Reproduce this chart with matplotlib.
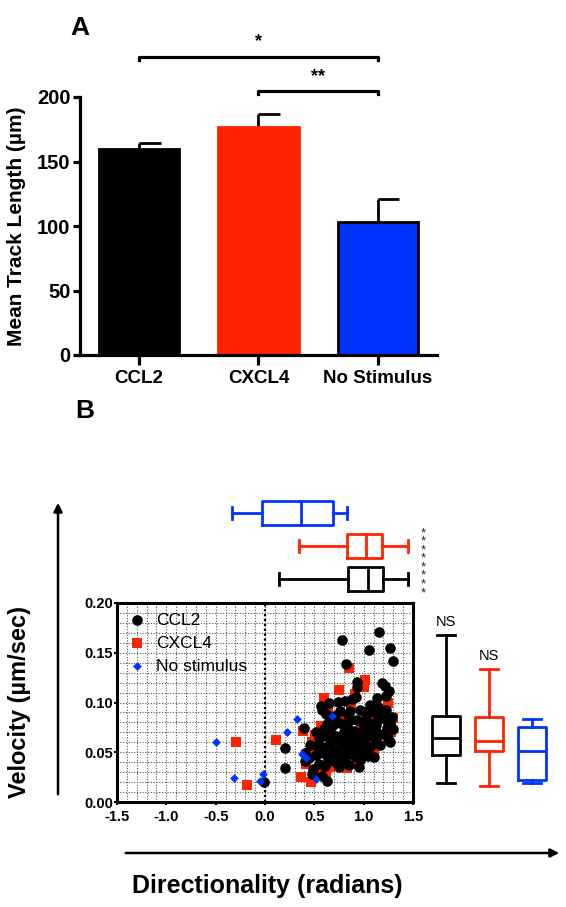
import matplotlib
matplotlib.use("Agg")
import matplotlib.pyplot as plt

plt.rcParams['font.family'] = ['Liberation Sans', 'DejaVu Sans']

# ---- panel A data
groups = ['CCL2', 'CXCL4', 'No Stimulus']
track_mean = [160, 177, 103]
track_err = [4, 10, 18]
colors = ['#000000', '#FF2200', '#0033FF']

# ---- panel B data
ccl2_x = [0.78, 1.16, 1.05, 1.27, 1.30, 0.82, 0.93, 0.93, 1.19, 1.22, 1.26, 1.23, 1.14, 0.92, 0.88,
          0.81, 0.74, 0.65, 0.57, -0.01, 0.20, 0.20, 0.40, 0.48, 0.58, 0.63, 0.46, 0.41, 0.41, 0.45,
          0.49, 0.52, 0.55, 0.59, 0.62, 0.66, 0.69, 0.58, 0.62, 0.76, 0.86, 0.83, 0.80, 0.93, 0.96,
          1.06, 1.23, 1.27, 1.30, 1.27, 1.20, 1.12, 1.03, 0.96, 0.95, 0.85, 0.80, 0.73, 0.70, 0.65,
          0.77, 0.86, 0.93, 1.10, 1.17, 1.25, 0.68, 0.72, 0.75, 0.79, 0.82, 0.88, 0.90, 0.97, 1.00,
          1.04, 1.08, 1.12, 1.15, 1.19, 1.22, 1.02, 0.98, 0.86, 0.74, 0.70, 0.66, 0.55, 0.52, 0.60,
          0.63, 0.90, 0.88, 1.00, 1.06, 0.76, 0.82, 0.71, 0.64, 0.58, 0.53, 0.95, 1.14, 1.24, 1.29,
          1.10, 0.84, 0.78, 1.04, 0.92, 0.97, 0.84, 0.91, 1.01, 1.07, 0.67, 0.61, 0.75, 1.15, 1.01]
ccl2_y = [0.163, 0.171, 0.153, 0.155, 0.142, 0.139, 0.121, 0.116, 0.120, 0.117, 0.112, 0.107, 0.105, 0.106, 0.104,
          0.102, 0.101, 0.100, 0.096, 0.020, 0.054, 0.034, 0.074, 0.028, 0.026, 0.021, 0.057, 0.049, 0.041, 0.044,
          0.033, 0.047, 0.038, 0.049, 0.066, 0.071, 0.077, 0.092, 0.088, 0.091, 0.091, 0.076, 0.070, 0.082, 0.092,
          0.097, 0.092, 0.079, 0.073, 0.060, 0.068, 0.062, 0.052, 0.042, 0.035, 0.037, 0.043, 0.045, 0.052, 0.057,
          0.057, 0.059, 0.056, 0.045, 0.057, 0.064, 0.062, 0.066, 0.063, 0.064, 0.061, 0.066, 0.071, 0.069, 0.074,
          0.066, 0.071, 0.077, 0.083, 0.087, 0.083, 0.084, 0.080, 0.082, 0.080, 0.086, 0.083, 0.064, 0.070, 0.073,
          0.078, 0.053, 0.048, 0.060, 0.055, 0.050, 0.052, 0.040, 0.043, 0.055, 0.056, 0.063, 0.069, 0.074, 0.085,
          0.090, 0.087, 0.078, 0.046, 0.045, 0.050, 0.069, 0.062, 0.067, 0.078, 0.048, 0.036, 0.035, 0.095, 0.090]

cxcl4_x = [-0.29, -0.18, 0.11, 0.36, 0.47, 0.39, 0.51, 0.57, 0.60, 0.75, 0.85, 1.01, 1.00, 0.91,
           0.73, 0.83, 0.68, 0.66, 1.30, 1.22, 1.18, 0.97, 1.05, 0.45, 0.55, 0.62, 0.90, 0.72,
           0.79, 0.87, 1.13, 1.28, 1.10, 0.94, 0.64, 0.48, 0.42, 1.25, 0.98]
cxcl4_y = [0.060, 0.017, 0.062, 0.025, 0.020, 0.071, 0.067, 0.076, 0.105, 0.113, 0.135, 0.123, 0.116, 0.109,
           0.037, 0.034, 0.042, 0.035, 0.084, 0.093, 0.087, 0.072, 0.063, 0.049, 0.031, 0.030, 0.039, 0.060,
           0.085, 0.097, 0.081, 0.070, 0.052, 0.058, 0.090, 0.060, 0.038, 0.100, 0.046]

nostim_x = [-0.50, -0.31, -0.02, -0.05, 0.22, 0.32, 0.68, 0.52, 0.42, 0.37]
nostim_y = [0.060, 0.024, 0.028, 0.021, 0.070, 0.083, 0.086, 0.023, 0.044, 0.048]

# box summaries: whislo, q1, med, q3, whishi   (order CCL2, CXCL4, No stimulus)
dir_box = [[0.14, 0.84, 1.04, 1.195, 1.45],
           [0.345, 0.83, 1.02, 1.185, 1.45],
           [-0.335, -0.03, 0.365, 0.69, 0.83]]
vel_box = [[0.019, 0.047, 0.064, 0.0865, 0.168],
           [0.016, 0.051, 0.061, 0.085, 0.134],
           [0.019, 0.022, 0.051, 0.075, 0.083]]
vel_sig = ['NS', 'NS', '']


def stats(rows):
    return [dict(whislo=r[0], q1=r[1], med=r[2], q3=r[3], whishi=r[4]) for r in rows]


W, H = 566, 907
fig = plt.figure(figsize=(W / 100, H / 100), dpi=100)


def rect(l, t, r, b):
    return [l / W, 1 - b / H, (r - l) / W, (b - t) / H]


# ================= panel A
ax = fig.add_axes(rect(80, 97, 437, 355))
xs = list(range(len(groups)))
ax.bar(xs, track_mean, width=0.67, color=colors, edgecolor=['black', colors[1], 'black'], linewidth=2, zorder=2)
for x, m, e in zip(xs, track_mean, track_err):
    ax.vlines(x, m, m + e, color='black', lw=2, zorder=1)
    ax.hlines(m + e, x, x + 0.18, color='black', lw=2)
ax.set_xlim(-0.494, 2.494)
ax.set_ylim(0, 200)
ax.set_yticks([0, 50, 100, 150, 200])
ax.set_xticks(xs)
ax.set_xticklabels(groups)
for s in ['top', 'right']:
    ax.spines[s].set_visible(False)
for s in ['left', 'bottom']:
    ax.spines[s].set_linewidth(2.3)
ax.tick_params(axis='y', width=2.3, length=5, labelsize=14.5, pad=2)
ax.tick_params(axis='x', width=2.3, length=7, labelsize=13.5, pad=4)
for lab in ax.get_xticklabels() + ax.get_yticklabels():
    lab.set_fontweight('bold')
ax.set_ylabel('Mean Track Length (µm)', fontsize=15, fontweight='bold', labelpad=8)

# significance brackets
for (a, b, txt, h) in [(0, 2, '*', 231), (1, 2, '**', 204.5)]:
    ax.plot([a, a, b, b], [h - 2.5, h, h, h - 2.5], color='black', lw=2.3, clip_on=False)
    ax.text((a + b) / 2, h + 5, txt, ha='center', va='bottom', fontsize=13, fontweight='bold')

fig.text(70 / W, 1 - 28 / H, 'A', fontsize=19, fontweight='bold', va='center')

# ================= panel B scatter
sx = fig.add_axes(rect(117, 603, 413, 802))
sx.set_xlim(-1.5, 1.5)
sx.set_ylim(0, 0.2)
for i in range(-14, 15):
    sx.axvline(i / 10, color='#555555', ls=(0, (1, 1.5)), lw=0.8, zorder=0)
for i in range(1, 20):
    sx.axhline(i / 100, color='#555555', ls=(0, (1, 1.5)), lw=0.8, zorder=0)
sx.axvline(0, color='black', ls=(0, (1, 1.2)), lw=1.6, zorder=1)
sx.scatter(cxcl4_x, cxcl4_y, marker='s', s=42, color=colors[1], lw=0, zorder=2, label='CXCL4')
sx.scatter(ccl2_x, ccl2_y, marker='o', s=58, color=colors[0], lw=0, zorder=3, label='CCL2')
sx.scatter(nostim_x, nostim_y, marker='D', s=20, color=colors[2], lw=0, zorder=4, label='No stimulus')
h, l = sx.get_legend_handles_labels()
order = [1, 0, 2]
sx.legend([h[i] for i in order], [l[i] for i in order], loc='upper left', frameon=False,
          fontsize=12.5, handletextpad=0.5, labelspacing=0.45, borderaxespad=0.1,
          borderpad=0.45, handlelength=1.2)
sx.set_xticks([-1.5, -1.0, -0.5, 0.0, 0.5, 1.0, 1.5])
sx.set_xticklabels(['-1.5', '-1.0', '-0.5', '0.0', '0.5', '1.0', '1.5'])
sx.set_yticks([0, 0.05, 0.10, 0.15, 0.20])
sx.set_yticklabels(['0.00', '0.05', '0.10', '0.15', '0.20'])
for s in sx.spines.values():
    s.set_linewidth(2.2)
sx.tick_params(width=1.5, length=2, labelsize=10.5)
sx.tick_params(axis='x', pad=4)
sx.tick_params(axis='y', pad=1)
for lab in sx.get_xticklabels() + sx.get_yticklabels():
    lab.set_fontweight('bold')

# top boxplots (directionality)
tx = fig.add_axes(rect(117, 496, 413, 596))
bp = tx.bxp(stats(dir_box), positions=[1, 2, 3], vert=False, widths=0.7, showfliers=False,
            capwidths=0.35, patch_artist=False)
for i, c in enumerate(colors):
    for key, n in [('boxes', 1), ('medians', 1), ('whiskers', 2), ('caps', 2)]:
        for art in bp[key][i * n:(i + 1) * n]:
            art.set_color(c)
            art.set_linewidth(2)
tx.set_xlim(-1.5, 1.5)
tx.set_ylim(0.485, 3.515)
tx.axis('off')
fig.text(423 / W, 1 - 563 / H, '\n'.join(['*'] * 8), ha='center', va='center',
         fontsize=9.5, linespacing=0.62, color='#222222')

# right boxplots (velocity)
rx = fig.add_axes(rect(420, 603, 560, 802))
bp = rx.bxp(stats(vel_box), positions=[1, 2, 3], widths=0.67, showfliers=False,
            capwidths=0.4)
for i, c in enumerate(colors):
    for key, n in [('boxes', 1), ('medians', 1), ('whiskers', 2), ('caps', 2)]:
        for art in bp[key][i * n:(i + 1) * n]:
            art.set_color(c)
            art.set_linewidth(2)
for i, (row, t) in enumerate(zip(vel_box, vel_sig)):
    rx.text(i + 1, row[4] + 0.006, t, ha='center', va='bottom', fontsize=10.5)
rx.set_xlim(0.395, 3.65)
rx.set_ylim(0, 0.2)
rx.axis('off')

# arrows and axis titles
fig.add_artist(matplotlib.patches.FancyArrowPatch((58 / W, 1 - 797 / H), (58 / W, 1 - 500 / H),
               transform=fig.transFigure, arrowstyle='-|>,head_length=5,head_width=2.5', lw=1.8, color='black'))
fig.add_artist(matplotlib.patches.FancyArrowPatch((123 / W, 1 - 853 / H), (562 / W, 1 - 853 / H),
               transform=fig.transFigure, arrowstyle='-|>,head_length=5,head_width=2.5', lw=1.8, color='black'))
fig.text(20 / W, 1 - 702 / H, 'Velocity (µm/sec)', rotation=90, ha='center', va='center',
         fontsize=17, fontweight='bold')
fig.text(267 / W, 1 - 886 / H, 'Directionality (radians)', ha='center', va='center',
         fontsize=18, fontweight='bold')
fig.text(75 / W, 1 - 411 / H, 'B', fontsize=19, fontweight='bold', va='center')

fig.savefig('out.png', dpi=100)
